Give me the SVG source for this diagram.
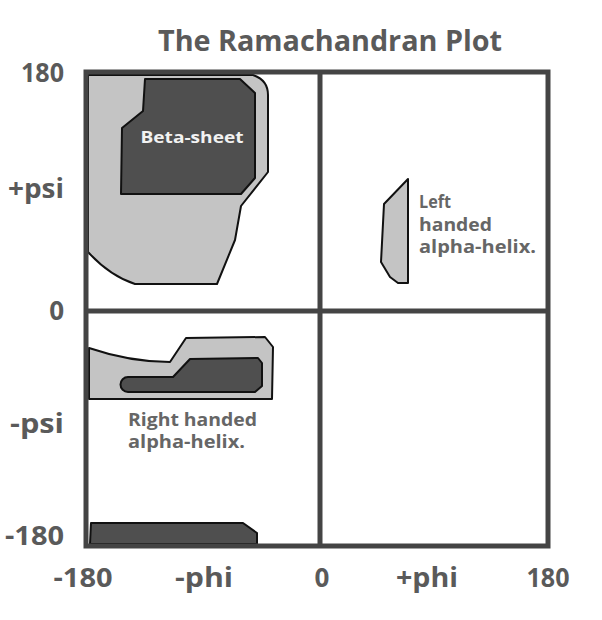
<svg xmlns="http://www.w3.org/2000/svg" width="602" height="620" viewBox="0 0 602 620">
<style>
.lbl{font-family:"Open Sans","Noto Sans",sans-serif;font-weight:700;fill:#5a5a5a}
.ax{font-size:26px}
.reg{font-size:17px;font-weight:700;fill:#666}
.light{fill:#c4c4c4;stroke:#111;stroke-width:2;stroke-linejoin:round}
.dark{fill:#4f4f4f;stroke:#111;stroke-width:2;stroke-linejoin:round}
.frame{fill:none;stroke:#444;stroke-width:5}
</style>
<rect width="602" height="620" fill="#fff"/>
<text class="lbl" x="330" y="51" font-size="28" text-anchor="middle" textLength="344" lengthAdjust="spacingAndGlyphs">The Ramachandran Plot</text>

<g id="beta-sheet">
<path class="light" d="M88,75 L253,75 Q268,80 268,95 L268,172 L241,206 L235,240 L217,284 L135,284 Q110,276 88,252 Z"/>
<path class="dark" d="M145,79 L240,79 L255,93 L255,178 L241,194 L121,194 L122,128 L143,111 Z"/>
<text class="lbl" x="192" y="143" font-size="16" style="fill:#f2f2f2" text-anchor="middle" textLength="103" lengthAdjust="spacingAndGlyphs">Beta-sheet</text>
</g>

<g id="right-handed-helix">
<path class="light" d="M89,348 Q130,362 170,362 L186,338 L265,337 L273,347 L272,399 L89,399 Z"/>
<path class="dark" d="M128,377 L173,377 L190,359 L258,358 L262,363 L262,386 L255,392 L128,392 A7.5,7.5 0 0 1 128,377 Z"/>
<text class="lbl reg" x="128" y="426" style="font-size:18px" textLength="129" lengthAdjust="spacingAndGlyphs">Right handed</text>
<text class="lbl reg" x="128" y="448" style="font-size:18px" textLength="117" lengthAdjust="spacingAndGlyphs">alpha-helix.</text>
</g>

<g id="bottom-region">
<path class="dark" d="M91,523 L243,523 L257,533 L257,544 L90,544 Z"/>
</g>

<g id="left-handed-helix">
<path class="light" d="M408,179 L384,204 L381,262 L390,277 L398,283 L408,283 Z"/>
<text class="lbl reg" x="419" y="208" textLength="32" lengthAdjust="spacingAndGlyphs">Left</text>
<text class="lbl reg" x="419" y="231" textLength="73" lengthAdjust="spacingAndGlyphs">handed</text>
<text class="lbl reg" x="419" y="253" textLength="117" lengthAdjust="spacingAndGlyphs">alpha-helix.</text>
</g>

<g id="connectors">
<rect class="frame" x="86" y="72" width="462" height="474"/>
<line class="frame" x1="320" y1="72" x2="320" y2="546"/>
<line class="frame" x1="86" y1="311" x2="548" y2="311"/>
</g>

<g id="y-axis">
<text class="lbl ax" x="64" y="82" text-anchor="end" textLength="43" lengthAdjust="spacingAndGlyphs">180</text>
<text class="lbl ax" x="64" y="198" text-anchor="end" textLength="56" lengthAdjust="spacingAndGlyphs">+psi</text>
<text class="lbl ax" x="64" y="320" text-anchor="end">0</text>
<text class="lbl ax" x="64" y="433" text-anchor="end" textLength="54" lengthAdjust="spacingAndGlyphs">-psi</text>
<text class="lbl ax" x="64" y="545" text-anchor="end" textLength="59" lengthAdjust="spacingAndGlyphs">-180</text>
</g>

<g id="x-axis">
<text class="lbl ax" x="83" y="587" text-anchor="middle" textLength="59" lengthAdjust="spacingAndGlyphs">-180</text>
<text class="lbl ax" x="204" y="587" text-anchor="middle" textLength="58" lengthAdjust="spacingAndGlyphs">-phi</text>
<text class="lbl ax" x="322" y="587" text-anchor="middle">0</text>
<text class="lbl ax" x="427" y="587" text-anchor="middle" textLength="62" lengthAdjust="spacingAndGlyphs">+phi</text>
<text class="lbl ax" x="548" y="587" text-anchor="middle" textLength="43" lengthAdjust="spacingAndGlyphs">180</text>
</g>
</svg>
